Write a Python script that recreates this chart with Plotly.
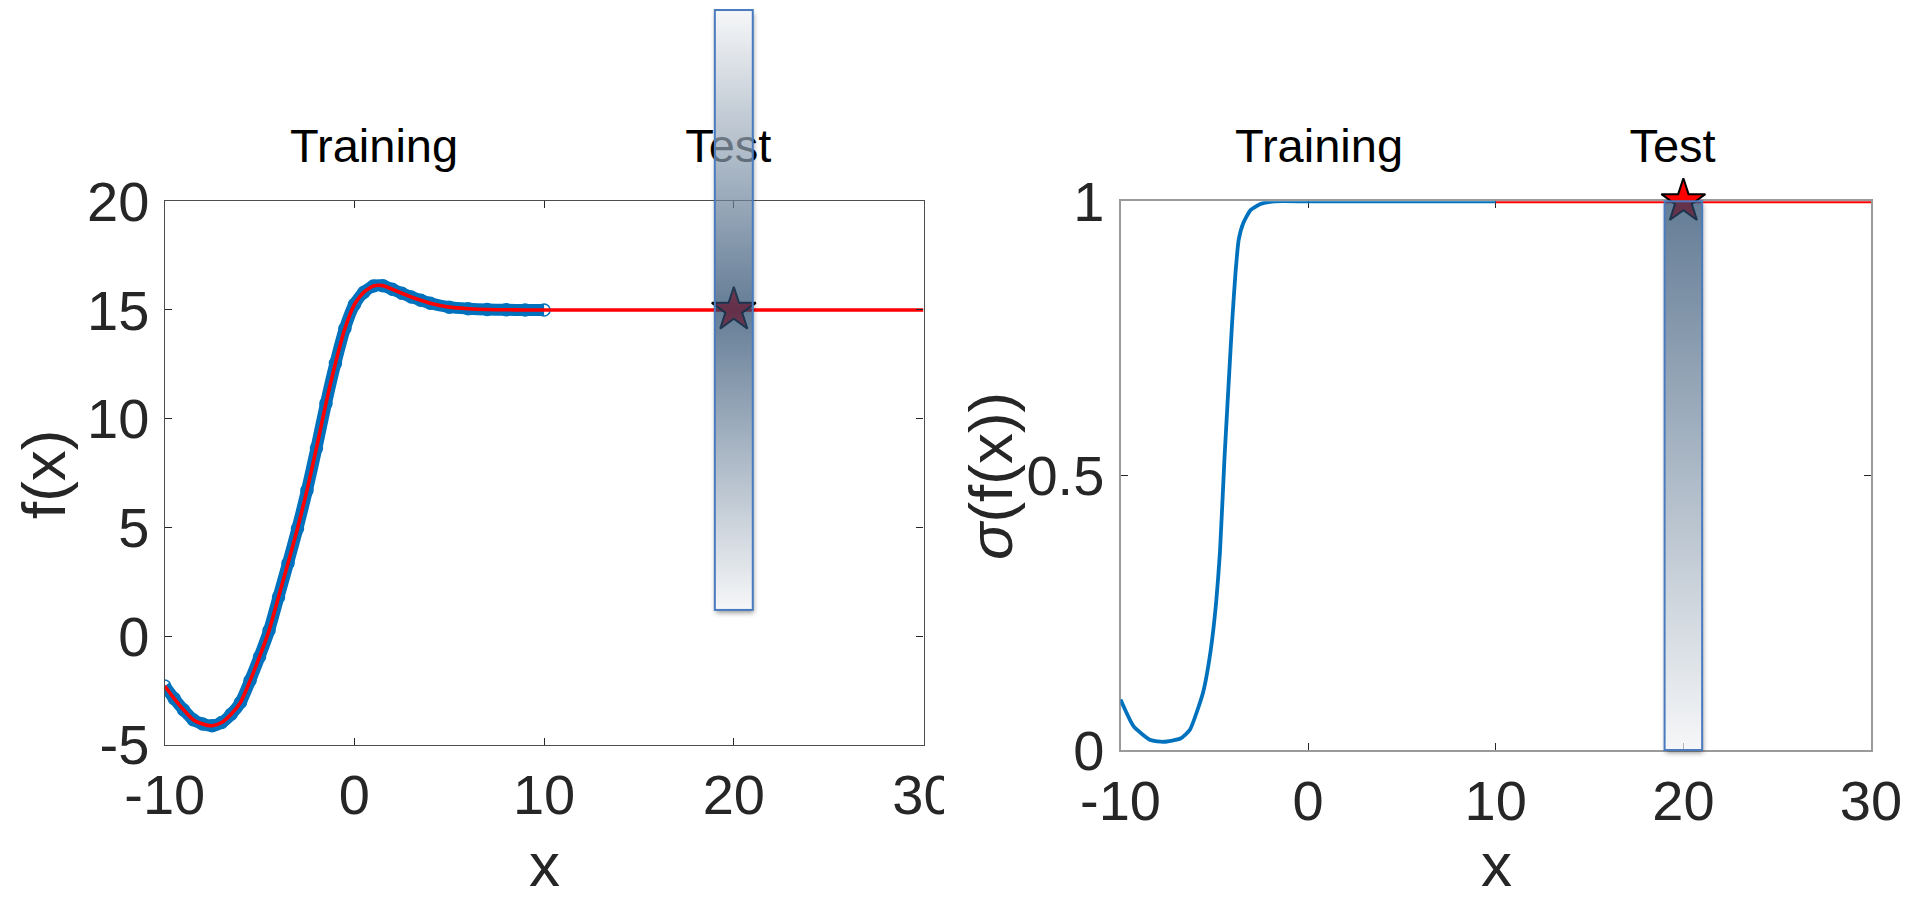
import base64
import plotly.graph_objects as go

# ---------------- data ----------------
train_x = [-10, -9.5, -9, -8.5, -8, -7.5, -7, -6.5, -6, -5.5, -5, -4.5, -4, -3.5, -3,
           -2.5, -2, -1.5, -1, -0.5, 0, 0.5, 1, 1.5, 2, 2.5, 3, 3.5, 4, 5, 6, 7, 8, 9, 10]
train_f = [-2.3, -2.88, -3.4, -3.85, -4.05, -4.13, -3.98, -3.6, -3.05, -2.05, -0.95, 0.25,
           1.8, 3.35, 4.95, 6.7, 8.65, 10.7, 12.55, 14.15, 15.25, 15.82, 16.1, 16.12, 15.95,
           15.77, 15.6, 15.45, 15.31, 15.13, 15.06, 15.02, 15.01, 15.0, 15.0]
test_x = [10, 30]
test_f = [15, 15]

sig_x = [-10, -9.3, -8.4, -7.7, -6.8, -6.3, -5.6, -5.2, -4.9, -4.7, -4.46, -4.2, -4.05,
         -3.87, -3.7, -3.46, -3.07, -2.54, -1.8, 0, 5, 10]
sig_v = [0.092, 0.043, 0.018, 0.015, 0.021, 0.037, 0.105, 0.18, 0.27, 0.36, 0.53, 0.69,
         0.78, 0.87, 0.93, 0.96, 0.984, 0.995, 1.0, 1.0, 1.0, 1.0]
test_sig = [1, 1]

star_x = [20]
star_f = [15]
star_sig = [1]

bar_x = [19, 21]
bar_f = [1.2, 28.8]
bar_sig = [0, 1]

region_labels = ["Training", "Test"]

x_ticks = [-10, 0, 10, 20, 30]
x_ticktext = ["-10", "0", "10", "20", "30"]
f_ticks = [-5, 0, 5, 10, 15, 20]
f_ticktext = ["-5", "0", "5", "10", "15", "20"]
s_ticks = [0, 0.5, 1]
s_ticktext = ["0", "0.5", "1"]

# ---------------- layout geometry ----------------
FIG_W, FIG_H = 1908, 898
FONT = "Liberation Sans, Arial, Helvetica, sans-serif"
TXT = "#262626"
BLUE = "#0072BD"
RED = "#FF0000"

L_XDOM = [164.7 / FIG_W, 923.5 / FIG_W]
L_YDOM = [1 - 744.7 / FIG_H, 1 - 201.3 / FIG_H]
R_XDOM = [1120.5 / FIG_W, 1871.0 / FIG_W]
R_YDOM = [1 - 750.0 / FIG_H, 1 - 201.3 / FIG_H]
TOP_DOM = [1 - 201.3 / FIG_H, 1.0]          # strip above the axes that holds the region labels
X_RANGE = [-10, 30]
F_RANGE = [-5, 20]
S_RANGE = [0, 1]


def bar_image(xref, yref, xdom, ydom, yrange, ylo, yhi, stops):
    """Gradient bar drawn as an SVG layout image positioned in axis units."""
    pxu_x = (xdom[1] - xdom[0]) * FIG_W / (X_RANGE[1] - X_RANGE[0])
    dom_h = (ydom[1] - ydom[0]) * FIG_H
    span = yrange[1] - yrange[0]
    pad = 12
    bw = (bar_x[1] - bar_x[0]) * pxu_x
    bh = (yhi - ylo) / span * dom_h
    w = bw + 2 * pad
    h = bh + 2 * pad
    stops_xml = "".join('<stop offset="%s" stop-color="%s"/>' % (o, c) for o, c in stops)
    svg = (
        '<svg xmlns="http://www.w3.org/2000/svg" width="%.2f" height="%.2f" viewBox="0 0 %.2f %.2f" '
        'preserveAspectRatio="none">'
        '<defs><linearGradient id="g" x1="0" y1="0" x2="0" y2="1">%s</linearGradient>'
        '<filter id="b" x="-1" y="-1" width="3" height="3"><feGaussianBlur stdDeviation="2.5"/></filter>'
        '<clipPath id="c"><path clip-rule="evenodd" d="M0 0H%.2fV%.2fH0Z M%.2f %.2fH%.2fV%.2fH%.2fZ"/></clipPath></defs>'
        '<g clip-path="url(#c)"><rect x="%.2f" y="%.2f" width="%.2f" height="%.2f" fill="#000" '
        'fill-opacity="0.4" filter="url(#b)"/></g>'
        '<rect x="%.2f" y="%.2f" width="%.2f" height="%.2f" fill="url(#g)" fill-opacity="0.7"/>'
        '<rect x="%.2f" y="%.2f" width="%.2f" height="%.2f" fill="none" stroke="#4a7bbf" stroke-width="2"/>'
        '</svg>'
    ) % (w, h, w, h, stops_xml,
         w, h, pad, pad, pad + bw, pad + bh, pad,
         pad + 1, pad + 3, bw, bh,
         pad, pad, bw, bh,
         pad, pad, bw, bh)
    src = "data:image/svg+xml;base64," + base64.b64encode(svg.encode()).decode()
    padu = pad / pxu_x
    top_dom = (yhi - yrange[0]) / span + pad / dom_h
    return dict(source=src, xref=xref, yref=yref + " domain",
                x=bar_x[0] - padu, sizex=(bar_x[1] - bar_x[0]) + 2 * padu,
                y=top_dom, sizey=h / dom_h,
                xanchor="left", yanchor="top", sizing="stretch", layer="above", opacity=1)


LIGHT = "rgb(242,243,245)"
DARK = "rgb(34,69,105)"
LABEL_V = 1 - 150.0 / 201.3   # vertical spot of the region labels inside the top strip

fig = go.Figure()

# ---- left panel ----
fig.add_trace(go.Scatter(x=train_x, y=train_f, mode="lines+markers",
                         line=dict(color=BLUE, width=12, shape="spline", smoothing=0.6),
                         marker=dict(symbol="circle-open", size=12, color=BLUE, line=dict(width=1.5)),
                         xaxis="x", yaxis="y", showlegend=False, hoverinfo="skip"))
fig.add_trace(go.Scatter(x=train_x + test_x, y=train_f + test_f, mode="lines",
                         line=dict(color=RED, width=3.6, shape="spline", smoothing=0.6),
                         xaxis="x", yaxis="y", showlegend=False, hoverinfo="skip"))
fig.add_trace(go.Scatter(x=star_x, y=star_f, mode="markers",
                         marker=dict(symbol="star", size=33, color=RED, line=dict(color="black", width=2)),
                         xaxis="x", yaxis="y", showlegend=False, hoverinfo="skip"))
fig.add_trace(go.Scatter(x=[1.04, 19.71], y=[LABEL_V, LABEL_V], mode="text", text=region_labels,
                         textposition="middle center",
                         textfont=dict(family=FONT, size=47, color="black"),
                         xaxis="x", yaxis="y3", showlegend=False, hoverinfo="skip"))

# ---- right panel ----
fig.add_trace(go.Scatter(x=sig_x, y=sig_v, mode="lines", cliponaxis=False,
                         line=dict(color=BLUE, width=3.8, shape="spline", smoothing=0.5),
                         xaxis="x2", yaxis="y2", showlegend=False, hoverinfo="skip"))
fig.add_trace(go.Scatter(x=test_x, y=test_sig, mode="lines", cliponaxis=False,
                         line=dict(color=RED, width=3.8),
                         xaxis="x2", yaxis="y2", showlegend=False, hoverinfo="skip"))
fig.add_trace(go.Scatter(x=star_x, y=star_sig, mode="markers", cliponaxis=False,
                         marker=dict(symbol="star", size=33, color=RED, line=dict(color="black", width=2)),
                         xaxis="x2", yaxis="y2", showlegend=False, hoverinfo="skip"))
fig.add_trace(go.Scatter(x=[0.58, 19.42], y=[LABEL_V, LABEL_V], mode="text", text=region_labels,
                         textposition="middle center",
                         textfont=dict(family=FONT, size=47, color="black"),
                         xaxis="x2", yaxis="y4", showlegend=False, hoverinfo="skip"))

axis_common = dict(showline=True, mirror="ticks", ticks="inside", ticklen=7, tickwidth=1,
                   tickcolor=TXT, showgrid=False, zeroline=False, fixedrange=True,
                   automargin=False, tickfont=dict(family=FONT, size=56, color=TXT))
hidden_axis = dict(visible=False, range=[0, 1], fixedrange=True, automargin=False,
                   showgrid=False, zeroline=False)

images = [
    bar_image("x", "y", L_XDOM, L_YDOM, F_RANGE, bar_f[0], bar_f[1],
              [(0, LIGHT), (0.5, DARK), (1, LIGHT)]),
    bar_image("x2", "y2", R_XDOM, R_YDOM, S_RANGE, bar_sig[0], bar_sig[1],
              [(0, DARK), (1, LIGHT)]),
]

annotations = [
    dict(text="f(x)", x=44 / FIG_W, y=1 - 474 / FIG_H, textangle=-90),
    dict(text="<i>σ</i>(f(x))", x=990 / FIG_W, y=1 - 476 / FIG_H, textangle=-90),
    dict(text="x", x=544 / FIG_W, y=1 - 864 / FIG_H),
    dict(text="x", x=1496 / FIG_W, y=1 - 864 / FIG_H),
]
for a in annotations:
    a.update(xref="paper", yref="paper", xanchor="center", yanchor="middle", showarrow=False,
             font=dict(family=FONT, size=62, color=TXT))

fig.update_layout(
    template="none",
    width=FIG_W, height=FIG_H,
    margin=dict(l=0, r=0, t=0, b=0, pad=0, autoexpand=False),
    paper_bgcolor="white", plot_bgcolor="white",
    showlegend=False,
    xaxis=dict(domain=L_XDOM, range=X_RANGE, tickvals=x_ticks, ticktext=x_ticktext,
               anchor="y", linecolor="#4d4d4d", linewidth=1.2, ticklabelstandoff=1, **axis_common),
    yaxis=dict(domain=L_YDOM, range=F_RANGE, tickvals=f_ticks, ticktext=f_ticktext,
               anchor="x", linecolor="#4d4d4d", linewidth=1.2, ticklabelstandoff=3, **axis_common),
    xaxis2=dict(domain=R_XDOM, range=X_RANGE, tickvals=x_ticks, ticktext=x_ticktext,
                anchor="y2", linecolor="#9a9a9a", linewidth=2, ticklabelstandoff=1,
                layer="below traces", **axis_common),
    yaxis2=dict(domain=R_YDOM, range=S_RANGE, tickvals=s_ticks, ticktext=s_ticktext,
                anchor="x2", linecolor="#9a9a9a", linewidth=2, ticklabelstandoff=3,
                layer="below traces", **axis_common),
    yaxis3=dict(domain=TOP_DOM, anchor="x", **hidden_axis),
    yaxis4=dict(domain=TOP_DOM, anchor="x2", **hidden_axis),
    images=images,
    annotations=annotations,
    shapes=[dict(type="rect", xref="paper", yref="paper", x0=944 / FIG_W, x1=962 / FIG_W,
                 y0=1 - 835 / FIG_H, y1=1 - 765 / FIG_H, fillcolor="white",
                 line=dict(width=0), layer="above")],
)

fig.write_html("out.html", config={"displayModeBar": False},
               post_script="document.body.style.margin='0';document.body.style.overflow='hidden';")
